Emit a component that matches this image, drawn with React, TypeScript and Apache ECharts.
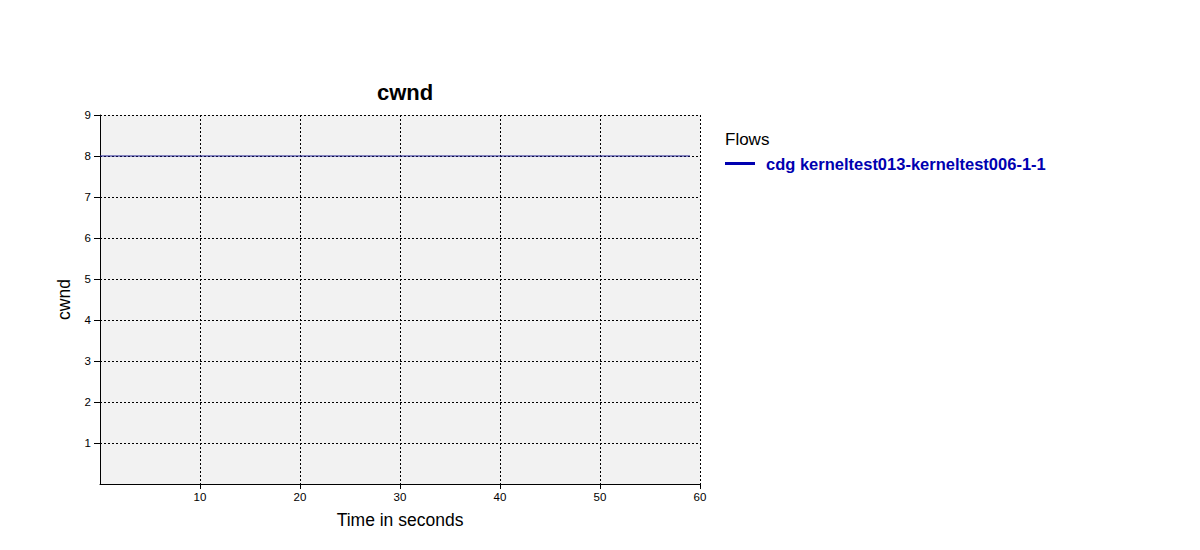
import React, { useEffect, useRef } from "react";
import * as echarts from "echarts";

const seriesName = "cdg kerneltest013-kerneltest006-1-1";
const timeValues = [0, 59];
const cwndValues = [8, 8];
const xTicks = [10, 20, 30, 40, 50, 60];
const yTicks = [1, 2, 3, 4, 5, 6, 7, 8, 9];

export default function App() {
  const ref = useRef<HTMLDivElement>(null);
  useEffect(() => {
    const chart = echarts.init(ref.current!, null, { renderer: "svg" });
    const font = "'Liberation Sans', Arial, sans-serif";
    chart.setOption({
      animation: false,
      backgroundColor: "#ffffff",
      title: {
        text: "cwnd",
        left: 400,
        top: 76,
        textAlign: "center",
        textStyle: { fontFamily: font, fontSize: 22, fontWeight: "bold", color: "#000" },
      },
      graphic: [
        {
          type: "text",
          left: 725,
          top: 131,
          style: { text: "Flows", fontFamily: font, fontSize: 17, fill: "#000" },
        },
      ],
      legend: {
        left: 725,
        top: 155,
        padding: 0,
        icon: "rect",
        itemWidth: 30,
        itemHeight: 3,
        itemGap: 10,
        data: [seriesName],
        textStyle: { fontFamily: font, fontSize: 16.5, fontWeight: "bold", color: "#0000b0", padding: [0, 0, 0, 6] },
      },
      grid: {
        left: 100,
        top: 115,
        width: 600,
        height: 369,
        show: true,
        backgroundColor: "#f2f2f2",
        borderWidth: 0,
      },
      xAxis: {
        type: "value",
        min: 0,
        max: 60,
        interval: 10,
        name: "Time in seconds",
        nameLocation: "middle",
        nameGap: 27,
        nameTextStyle: { fontFamily: font, fontSize: 17.5, color: "#000" },
        axisLine: { show: true, onZero: false, lineStyle: { color: "#000", width: 1 } },
        axisTick: { show: true, length: 5, customValues: xTicks, lineStyle: { color: "#000" } },
        axisLabel: {
          fontFamily: font,
          fontSize: 11.5,
          color: "#000",
          margin: 7,
          customValues: xTicks,
        },
        splitLine: { show: true, lineStyle: { type: [2, 2], color: "#000", width: 1 } },
      },
      yAxis: {
        type: "value",
        min: 0,
        max: 9,
        interval: 1,
        name: "cwnd",
        nameLocation: "middle",
        nameGap: 27,
        nameRotate: 90,
        nameTextStyle: { fontFamily: font, fontSize: 17.5, color: "#000" },
        axisLine: { show: true, lineStyle: { color: "#000", width: 1 } },
        axisTick: { show: true, length: 6, customValues: yTicks, lineStyle: { color: "#000" } },
        axisLabel: {
          fontFamily: font,
          fontSize: 11.5,
          color: "#000",
          margin: 9,
          customValues: yTicks,
        },
        splitLine: { show: true, lineStyle: { type: [2, 2], color: "#000", width: 1 } },
      },
      series: [
        {
          name: seriesName,
          type: "line",
          data: timeValues.map((t, i) => [t, cwndValues[i]]),
          showSymbol: false,
          color: "#0000b0",
          lineStyle: { color: "#1a1a90", width: 1 },
        },
      ],
    });
    return () => chart.dispose();
  }, []);
  return (
    <div
      ref={ref}
      style={{ position: "fixed", left: 0, top: 0, width: 1200, height: 550 }}
    />
  );
}
